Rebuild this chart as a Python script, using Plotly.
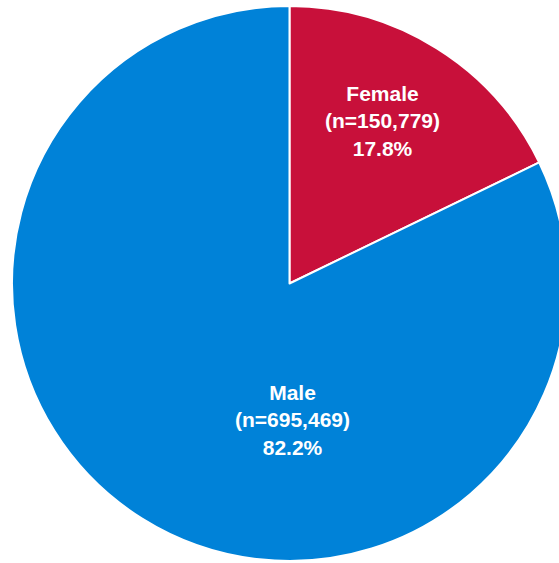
import plotly.graph_objects as go

labels = ["Female", "Male"]
counts = [150779, 695469]
colors = ["#C8103A", "#0082D8"]
# label anchor points (paper fractions) for the slice labels
label_x = [0.667, 0.505]
label_y = [0.792, 0.254]

total = sum(counts)

fig = go.Figure(go.Pie(
    labels=labels,
    values=counts,
    sort=False,
    direction="clockwise",
    rotation=0,
    marker=dict(colors=colors, line=dict(color="white", width=2)),
    textinfo="none",
    hoverinfo="label+value+percent",
    showlegend=False,
))

for lab, v, x, y in zip(labels, counts, label_x, label_y):
    fig.add_annotation(
        x=x, y=y, xref="paper", yref="paper",
        xanchor="center", yanchor="middle",
        text=f"<b>{lab}<br>(n={v:,})<br>{100*v/total:.1f}%</b>",
        showarrow=False,
        font=dict(family="Liberation Sans, Arial, sans-serif", size=21, color="white"),
    )

fig.update_layout(
    width=570,
    height=563,
    margin=dict(l=12, r=3, t=6, b=2),
    paper_bgcolor="white",
    plot_bgcolor="white",
)

fig.write_html(
    "out.html",
    config={"displayModeBar": False},
    post_script="document.body.style.margin='0';document.body.style.overflow='hidden';",
)
